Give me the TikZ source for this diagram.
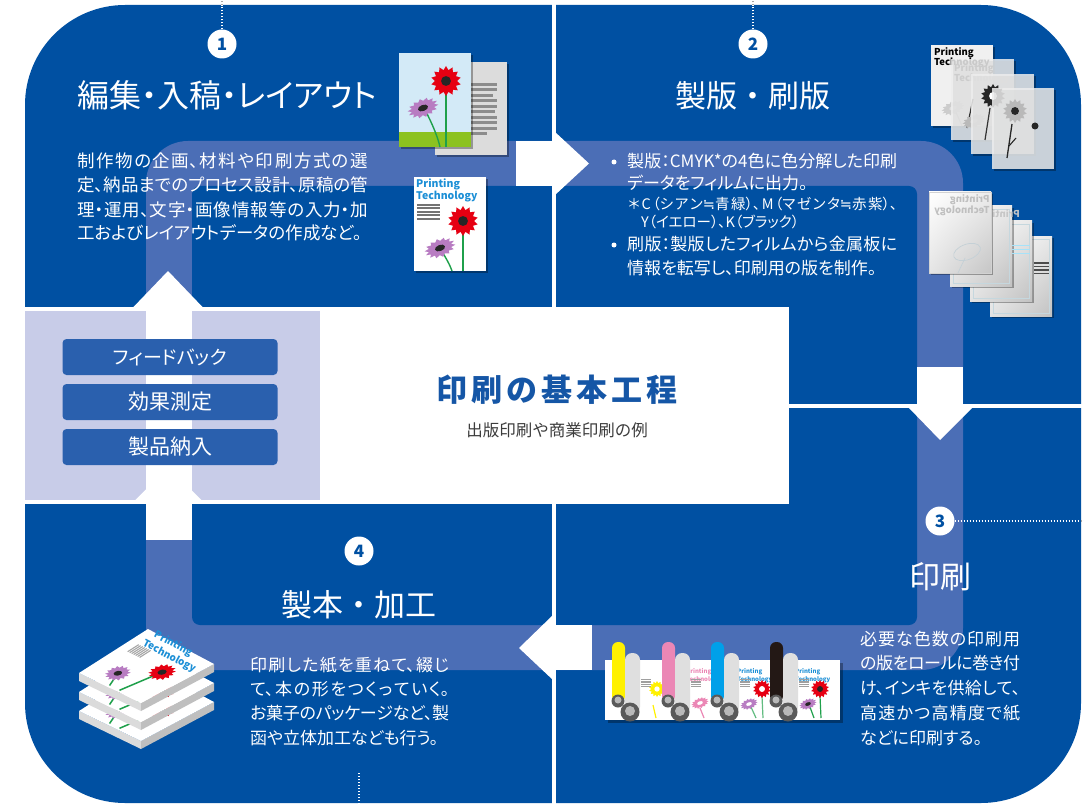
\documentclass[tikz,border=0pt]{standalone}
\usepackage{fontspec}
\usetikzlibrary{shadings}
\setmainfont{Noto Sans CJK JP}
\newfontfamily\jp{Noto Sans CJK JP}
\newfontfamily\jpp{Noto Sans CJK JP}[RawFeature=+palt]
\newfontfamily\symfont{DejaVu Sans}
\XeTeXlinebreaklocale "ja"
\XeTeXlinebreakskip=0pt plus 2pt minus 1pt
\XeTeXlinebreakpenalty=10000

\definecolor{qblue}{HTML}{0050A2}
\definecolor{trackblue}{HTML}{4B6EB6}
\definecolor{lav}{HTML}{C8CCE8}
\definecolor{btnblue}{HTML}{2A60AE}
\definecolor{ttlblue}{HTML}{1556A6}
\definecolor{ptblue}{HTML}{1C8FD6}
\definecolor{petred}{HTML}{E60012}
\definecolor{petpur}{HTML}{B87CC2}
\definecolor{stemgreen}{HTML}{1FA04B}
\definecolor{sky}{HTML}{D3EAF7}
\definecolor{grass}{HTML}{8CC220}
\definecolor{paper}{HTML}{DCDCDC}
\definecolor{textgray}{HTML}{3C3C3C}
\definecolor{roller}{HTML}{5A5A5A}
\definecolor{inkY}{HTML}{FFF100}
\definecolor{inkM}{HTML}{EB87B5}
\definecolor{inkC}{HTML}{00A0E9}
\definecolor{inkK}{HTML}{231815}

% jagged gerbera flower: x, y, radius, petal colour, centre colour
\newcommand{\gerbera}[5]{%
  \fill[#4] plot[samples=28, domain=0:347.143, variable=\t]
    ({#1+#3*(0.74+0.26*mod(round(\t/12.857),2))*cos(\t)},
     {#2+#3*(0.74+0.26*mod(round(\t/12.857),2))*sin(\t)}) -- cycle;
  \fill[#5] (#1,#2) circle[radius=0.33*#3];
}
% one justified single line of given width
\newcommand{\jline}[2]{\parbox[b]{#1}{\parfillskip=0pt\relax #2}}
\newcommand{\bodyfont}{\jpp\fontsize{17.5}{24}\selectfont}
\newcommand{\smallbody}{\jpp\fontsize{14.5}{18}\selectfont}
\newcommand{\approxeq}{{\symfont ≒}}

% one book of the stack, shifted down by #1
\newcommand{\bookslab}[1]{%
  \fill[gray!28] (79,673+#1) -- (141,703+#1) -- (141,711+#1) -- (79,681+#1) -- cycle;
  \fill[gray!50] (141,703+#1) -- (214,664+#1) -- (214,672+#1) -- (141,711+#1) -- cycle;
  \fill[white] (79,673+#1) -- (148,629+#1) -- (214,664+#1) -- (141,703+#1) -- cycle;
}
% printed cover seen on the top face of a book
\newcommand{\bookface}[1]{%
  \begin{scope}[shift={(79,673+#1)}, cm={0.62,-0.30,0.69,0.44,(0,0)}, x=1pt, y=1pt]
    \draw[stemgreen, line width=1.5pt] (75,53) -- (62,3);
    \draw[stemgreen, line width=1.5pt] (36,24) -- (46,3);
    \gerbera{75}{53}{15}{petred}{black!85}
    \gerbera{36}{24}{14}{petpur}{black!85}
    \foreach \k in {0,...,6} \draw[gray!70, line width=1.1pt] (14+\k*3.2,58) -- (14+\k*3.2,74);
  \end{scope}
}

\begin{document}
\begin{tikzpicture}[x=1pt,y=-1pt,
  numcirc/.style={circle, fill=white, minimum size=29pt, inner sep=0pt, text=qblue,
    font=\jp\bfseries\fontsize{17}{17}\selectfont},
  btnbox/.style={fill=btnblue, rounded corners=4pt, minimum width=215pt,
    minimum height=36pt, inner sep=0pt, text=white},
  headline/.style={text=white, inner sep=0pt, anchor=base},
  bodyline/.style={text=white, inner sep=0pt, anchor=base west},
  bulletdot/.style={circle, fill=white, inner sep=0pt, minimum size=5pt},
  dotline/.style={line width=1.1pt, dash pattern=on 1.1pt off 1.9pt},
  shadowbox/.style={fill=black, opacity=0.32},
  logo/.style={inner sep=0pt, anchor=base west, align=left,
    font=\jp\bfseries\fontsize{#1}{#1}\selectfont},
]
\useasboundingbox (0,0) rectangle (1084,805);
\fill[white] (0,0) rectangle (1084,805);

% ---- four process panels
\fill[qblue, rounded corners=100pt] (25,5) rectangle (1081,803);

% ---- circulation track
\fill[trackblue, rounded corners=42pt] (146,141) rectangle (963,670);
\fill[trackblue, rounded corners=6pt] (146,600) rectangle (200,670);
\fill[qblue, rounded corners=8pt] (192,186) rectangle (917,625);

% ---- gaps between the panels, centre box, feedback panel
\fill[white] (552,0) rectangle (556,805);
\fill[white] (0,307) rectangle (789,503.5);
\fill[white] (789,404) rectangle (1084,408);
\fill[lav] (25,311) rectangle (320,500);

% ---- flow arrows
\fill[white] (516,141) rectangle (556,186);
\fill[white] (555,132) -- (589,163.5) -- (555,195) -- cycle;
\fill[white] (917,367) rectangle (963,405);
\fill[white] (908,407) -- (973,407) -- (940,440) -- cycle;
\fill[white] (552,625) rectangle (592,670);
\fill[white] (553,615) -- (519,648) -- (553,680) -- cycle;
\fill[white] (146,311) rectangle (192,500);
\fill[white] (135,500.5) -- (202,500.5) -- (168,467) -- cycle;
\fill[white] (146,503) rectangle (192,540);
\fill[white] (133,307.5) -- (203,307.5) -- (168,271) -- cycle;

% ---- feedback buttons
\node[btnbox, font=\jpp\fontsize{19}{19}\selectfont] (b1) at (170,357) {フィードバック};
\node[btnbox, font=\jp\fontsize{21}{21}\selectfont] (b2) at (170,402) {効果測定};
\node[btnbox, font=\jp\fontsize{21}{21}\selectfont] (b3) at (170,447) {製品納入};

% ---- centre title
\node[inner sep=0pt, anchor=base, text=ttlblue, font=\jp\bfseries\fontsize{31}{31}\selectfont] (title) at (557,401)
  {印\kern4pt 刷\kern4pt の\kern4pt 基\kern4pt 本\kern4pt 工\kern4pt 程};
\node[inner sep=0pt, anchor=base, text=textgray, font=\jp\fontsize{16.5}{16.5}\selectfont] (subtitle) at (557,436.5)
  {出版印刷や商業印刷の例};

% ---- step numbers and their dotted leaders
\node[numcirc] (n1) at (222,44) {1};
\node[numcirc] (n2) at (753,44) {2};
\node[numcirc] (n3) at (940,521) {3};
\node[numcirc] (n4) at (359,551) {4};
\coordinate (t1) at (222,0); \coordinate (e1) at (222,5);
\coordinate (t2) at (753,0); \coordinate (e2) at (753,5);
\coordinate (t3) at (1084,521); \coordinate (e3) at (1080,521);
\coordinate (s4) at (359,773); \coordinate (t4) at (359,805);
\draw[dotline, gray!70] (n1.north) -- (t1);
\draw[dotline, white] (n1.north) -- (e1);
\draw[dotline, gray!70] (n2.north) -- (t2);
\draw[dotline, white] (n2.north) -- (e2);
\draw[dotline, gray!70] (n3.east) -- (t3);
\draw[dotline, white] (n3.east) -- (e3);
\draw[dotline, white] (s4) -- (t4);

% ---- step 1 : editing and layout
\node[headline, anchor=base west, font=\jpp\fontsize{32}{32}\selectfont] (h1) at (77,108) {編集・入稿・レイアウト};
\node[bodyline] (p1) at (77,168) {\parbox[t]{291pt}{\bodyfont
  制作物の企画、材料や印刷方式の選\linebreak 定、納品までのプロセス設計、原稿の管\linebreak 理・運用、文字・画像情報等の入力・加\linebreak 工およびレイアウトデータの作成など。}};

% manuscript pages
\fill[shadowbox] (437,64) rectangle (509,157);
\fill[paper] (435,62) rectangle (507,155);
\foreach \yy/\len in {83/26, 88.5/26, 94/22, 99.5/26, 105/26, 110.5/24, 116/26, 121.5/26, 127/26, 132.5/16}
  \fill[black!45] (471,\yy) rectangle (471+\len,\yy+2.6);
\fill[shadowbox] (401,55) rectangle (473,149);
\fill[sky] (399,53) rectangle (471,147);
\fill[grass] (399,132) rectangle (471,147);
\draw[stemgreen, line width=1.6pt] (446,85) -- (446,147);
\draw[stemgreen, line width=1.4pt] (425,110) .. controls (433,125) and (438,138) .. (440,147);
\gerbera{446}{81}{15}{petred}{black!85}
\begin{scope}[shift={(423,108)}, rotate=20, yscale=0.58]
  \gerbera{0}{0}{16}{petpur}{black!85}
\end{scope}

% finished cover
\fill[shadowbox] (416,179) rectangle (488,273);
\fill[white] (414,177) rectangle (486,271);
\node[logo=10.5, text=ptblue] (c1) at (416,199.5) {Printing\\Technology};
\foreach \yy in {204,207.5,211,214.5,218}
  \fill[black!55] (417,\yy) rectangle (440,\yy+1.6);
\draw[stemgreen, line width=1.6pt] (463,225) -- (463,271);
\draw[stemgreen, line width=1.4pt] (441,250) .. controls (446,258) and (450,265) .. (452,271);
\gerbera{463}{221}{15}{petred}{black!85}
\begin{scope}[shift={(440,248)}, rotate=20, yscale=0.58]
  \gerbera{0}{0}{16}{petpur}{black!85}
\end{scope}

% ---- step 2 : film and plate making
\node[headline, font=\jp\fontsize{31}{31}\selectfont] (h2) at (753,108) {製版・刷版};
\node[bulletdot] (bul1) at (614,162) {};
\node[bodyline] (p2a) at (627,168) {\jline{270pt}{\jpp\fontsize{17}{22}\selectfont 製版：CMYK*の4色に色分解した印刷}};
\node[bodyline] (p2b) at (627,190) {\jpp\fontsize{17}{22}\selectfont データをフィルムに出力。};
\node[bodyline] (p2c) at (628,210) {\jline{269pt}{\smallbody ＊C（シアン\approxeq 青緑）、M（マゼンタ\approxeq 赤紫）、}};
\node[bodyline] (p2d) at (641,228) {\smallbody Y（イエロー）、K（ブラック）};
\node[bulletdot] (bul2) at (614,245) {};
\node[bodyline] (p2e) at (627,251) {\jline{270pt}{\jpp\fontsize{17}{22}\selectfont 刷版：製版したフィルムから金属板に}};
\node[bodyline] (p2f) at (627,274) {\jpp\fontsize{17}{22}\selectfont 情報を転写し、印刷用の版を制作。};

% colour separation films
\fill[shadowbox] (933,47) rectangle (995,128);
\fill[gray!12] (931,45) rectangle (993,126);
\node[logo=9.5, text=black] (f1) at (934,66) {Printing\\Technology};
\draw[gray!50, line width=1.2pt] (955,110) -- (962,126);
\begin{scope}[shift={(953,108)}, rotate=20, yscale=0.55]
  \gerbera{0}{0}{12}{gray!40}{gray!25}
\end{scope}
\fill[shadowbox] (953,61) rectangle (1016,142);
\fill[gray!14, fill opacity=0.85] (951,59) rectangle (1014,140);
\node[logo=9.5, text=gray!40] (f2) at (954,82) {Printing\\Technology};
\draw[black!80, line width=1.2pt] (973,99) -- (967,128);
\begin{scope}[shift={(974,121)}, rotate=20, yscale=0.55]
  \gerbera{0}{0}{12}{gray!55}{gray!35}
\end{scope}
\fill[shadowbox] (973,76) rectangle (1036,156);
\fill[gray!14, fill opacity=0.85] (971,74) rectangle (1034,154);
\draw[black!80, line width=1.2pt] (990,108) -- (985,140);
\gerbera{993}{96}{12}{black!85}{white}
\fill[shadowbox] (994,90) rectangle (1056,171);
\fill[gray!14, fill opacity=0.85] (992,88) rectangle (1054,169);
\draw[black!85, line width=1.3pt] (1012,124) -- (1007,158);
\draw[black!85, line width=1.1pt] (1009,146) -- (1016,138);
\gerbera{1015}{111}{12}{gray!55}{black!85}
\fill[black!85] (1035,126) circle[radius=3.5];

% printing plates
\foreach \px/\py in {990/236, 970/221, 950/206} {
  \fill[shadowbox] (\px+2,\py+2) rectangle (\px+64,\py+82);
  \shade[upper left=white, upper right=gray!18, lower left=gray!22, lower right=gray!48]
    (\px,\py) rectangle (\px+62,\py+80);
  \draw[cyan!30!gray!40, line width=0.5pt] (\px+3,\py+3) rectangle (\px+59,\py+77);
}
\foreach \yy in {262,265.5,269,272.5}
  \fill[black!70] (1034,\yy) rectangle (1049,\yy+1.6);
\foreach \yy in {245,249,253}
  \draw[cyan!35, line width=0.7pt] (1012,\yy) -- (1030,\yy);
\node[inner sep=0pt, xscale=-1, text=gray!45, font=\jp\bfseries\fontsize{9.5}{9.5}\selectfont] (m2) at (1000,215) {Printing};
\fill[shadowbox] (931,194) rectangle (993,275);
\shade[upper left=white, upper right=gray!15, lower left=gray!20, lower right=gray!45]
  (929,192) rectangle (991,273);
\draw[gray!35, line width=0.5pt] (929,192) rectangle (991,273);
\node[inner sep=0pt, xscale=-1, align=left, text=gray!50, font=\jp\bfseries\fontsize{9.5}{9.5}\selectfont] (m1) at (962,205) {Printing\\Technology};
\begin{scope}[shift={(967,252)}, rotate=20, yscale=0.55]
  \draw[cyan!20!gray!45, line width=0.7pt] (0,0) circle[radius=14];
\end{scope}
\draw[cyan!20!gray!45, line width=0.7pt] (965,258) -- (958,273);

% ---- step 3 : printing
\node[headline, font=\jp\fontsize{31}{31}\selectfont] (h3) at (940,588) {印刷};
\node[bodyline] (p3) at (860,645) {\parbox[t]{160pt}{\jpp\fontsize{17}{24.8}\selectfont
  必要な色数の印刷用\linebreak の版をロールに巻き付\linebreak け、インキを供給して、\linebreak 高速かつ高精度で紙\linebreak などに印刷する。}};

% press units
\fill[shadowbox] (608,663) rectangle (843,723);
\fill[white] (605,660) rectangle (840,720);
\draw[inkY, line width=1.2pt] (653,705) -- (656,718);
\gerbera{657}{689}{8}{inkY}{white}
\node[logo=6, text=inkM] (u2) at (686,681) {Printing\\Technology};
\draw[inkM, line width=1.2pt] (700,708) -- (704,718);
\begin{scope}[shift={(700,703)}, rotate=20, yscale=0.58]
  \gerbera{0}{0}{9}{inkM}{white}
\end{scope}
\node[logo=6, text=ptblue] (u3) at (737,681) {Printing\\Technology};
\draw[stemgreen!70, line width=1.2pt] (762,696) -- (763,718);
\draw[stemgreen!70, line width=1.2pt] (751,707) -- (756,718);
\gerbera{762}{689}{9}{petred}{white}
\begin{scope}[shift={(749,704)}, rotate=20, yscale=0.58]
  \gerbera{0}{0}{9}{petpur}{white}
\end{scope}
\node[logo=6, text=ptblue] (u4) at (795,681) {Printing\\Technology};
\draw[stemgreen, line width=1.2pt] (820,696) -- (821,718);
\draw[stemgreen, line width=1.2pt] (810,707) -- (814,718);
\gerbera{820}{689}{9}{petred}{black!85}
\begin{scope}[shift={(808,704)}, rotate=20, yscale=0.58]
  \gerbera{0}{0}{9}{petpur}{black!85}
\end{scope}
\foreach \ux/\uc in {612/inkY, 662/inkM, 711/inkC, 770/inkK} {
  \fill[\uc, rounded corners=6pt] (\ux,642) rectangle (\ux+13,702);
  \fill[gray!25, rounded corners=7pt] (\ux+13,653) rectangle (\ux+28,714);
  \foreach \k in {0,...,3}
    \fill[gray!75] (\ux+29,679+\k*2.4) rectangle (\ux+39,680.2+\k*2.4);
  \fill[roller] (\ux+6,701) circle[radius=6.5];
  \fill[gray!55] (\ux+6,700) circle[radius=3.5];
  \fill[roller] (\ux+18,712) circle[radius=9.5];
  \fill[gray!55] (\ux+18,711) circle[radius=5];
}

% ---- step 4 : binding and finishing
\node[headline, font=\jp\fontsize{31}{31}\selectfont] (h4) at (359,616) {製本・加工};
\node[bodyline] (p4) at (250,671) {\parbox[t]{199pt}{\jpp\fontsize{17}{24.4}\selectfont
  印刷した紙を重ねて、綴じ\linebreak て、本の形をつくっていく。\linebreak お菓子のパッケージなど、製\linebreak 函や立体加工なども行う。}};

% stack of bound books
\bookslab{38}
\bookface{38}
\bookslab{19}
\bookface{19}
\bookslab{0}
\bookface{0}
\node[logo=10, rotate=-28, text=ptblue, font=\jp\bfseries\fontsize{10}{12.5}\selectfont] (bk) at (142,645)
  {\hspace*{6pt}Printing\\Technology};

\end{tikzpicture}
\end{document}
